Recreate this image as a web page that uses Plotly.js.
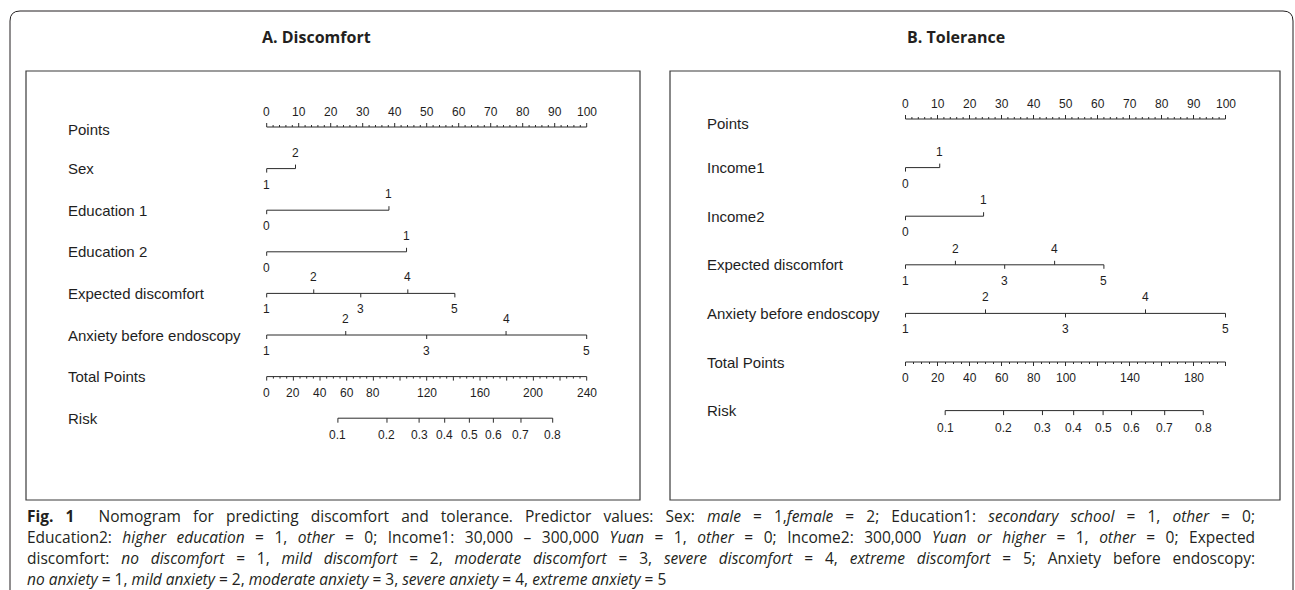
<!DOCTYPE html>
<html>
<head>
<meta charset="utf-8">
<script src="https://cdn.plot.ly/plotly-3.0.1.min.js"></script>
<style>html,body{margin:0;padding:0;background:#fff;}#chart{width:1295px;height:590px;}</style>
</head>
<body>
<div id="chart"></div>
<script>
// ---------------- DATA ----------------
// Panel A: Discomfort
const aTitle = "A. Discomfort";
const aRowLabels = ["Points", "Sex", "Education 1", "Education 2", "Expected discomfort", "Anxiety before endoscopy", "Total Points", "Risk"];
const aSexLevels = ["1", "2"];
const aSexPoints = [0, 9];
const aEdu1Levels = ["0", "1"];
const aEdu1Points = [0, 38.2];
const aEdu2Levels = ["0", "1"];
const aEdu2Points = [0, 43.7];
const aExpLevels = ["1", "2", "3", "4", "5"];
const aExpPoints = [0, 14.7, 29.4, 44.1, 58.8];
const aAnxLevels = ["1", "2", "3", "4", "5"];
const aAnxPoints = [0, 24.7, 50, 74.8, 100];
const aTotalMax = 240;
const aTotalLabels = [0, 20, 40, 60, 80, 120, 160, 200, 240];
const aRiskLabels = ["0.1", "0.2", "0.3", "0.4", "0.5", "0.6", "0.7", "0.8"];
const aRiskTotal = [53.4, 90.2, 114.3, 133.5, 152, 170, 190.7, 214.5];

// Panel B: Tolerance
const bTitle = "B. Tolerance";
const bRowLabels = ["Points", "Income1", "Income2", "Expected discomfort", "Anxiety before endoscopy", "Total Points", "Risk"];
const bInc1Levels = ["0", "1"];
const bInc1Points = [0, 10.7];
const bInc2Levels = ["0", "1"];
const bInc2Points = [0, 24.4];
const bExpLevels = ["1", "2", "3", "4", "5"];
const bExpPoints = [0, 15.6, 31, 46.6, 62];
const bAnxLevels = ["1", "2", "3", "4", "5"];
const bAnxPoints = [0, 25, 50, 75, 100];
const bTotalMax = 200;
const bTotalLabels = [0, 20, 40, 60, 80, 100, 140, 180];
const bRiskLabels = ["0.1", "0.2", "0.3", "0.4", "0.5", "0.6", "0.7", "0.8"];
const bRiskTotal = [24.8, 61.3, 85.6, 105.1, 123.5, 141.3, 162, 186.1];

const pointsTickLabels = [0, 10, 20, 30, 40, 50, 60, 70, 80, 90, 100];

const captionLines = [
  "<b>Fig. 1</b>  Nomogram for predicting discomfort and tolerance. Predictor values: Sex: <i>male</i> = 1,<i>female</i> = 2; Education1: <i>secondary school</i> = 1, <i>other</i> = 0;",
  "Education2: <i>higher education</i> = 1, <i>other</i> = 0; Income1: 30,000 – 300,000 <i>Yuan</i> = 1, <i>other</i> = 0; Income2: 300,000 <i>Yuan or higher</i> = 1, <i>other</i> = 0; Expected",
  "discomfort: <i>no discomfort</i> = 1, <i>mild discomfort</i> = 2, <i>moderate discomfort</i> = 3, <i>severe discomfort</i> = 4, <i>extreme discomfort</i> = 5; Anxiety before endoscopy:",
  "<i>no anxiety</i> = 1, <i>mild anxiety</i> = 2, <i>moderate anxiety</i> = 3, <i>severe anxiety</i> = 4, <i>extreme anxiety</i> = 5"
];

// ---------------- LAYOUT GEOMETRY ----------------
const W = 1295, H = 590;
const px = x => x / W;
const py = y => 1 - y / H;

const geomA = {box: [26, 71, 640, 500], p0: 266.7, p100: 586.7, rowTop: 127, rowStep: 41.6, labelX: 66, titleX: 316, pointsLabelDy: 2};
const geomB = {box: [670, 71, 1280, 500], p0: 905.5, p100: 1225.5, rowTop: 119, rowStep: 48.6, labelX: 705, titleX: 956, pointsLabelDy: 4};
const CAPTION_X0 = 25, CAPTION_X1 = 1255;

const LINE = "#2b2b2b";
const TICKFONT = {family: "Liberation Sans, Arial, sans-serif", size: 12, color: "#1e1e1e"};
const ROWFONT = {family: "Liberation Sans, Arial, sans-serif", size: 15, color: "#1e1e1e"};

const traces = [];
const annotations = [];
const shapes = [];
const layout = {
  width: W, height: H,
  margin: {l: 0, r: 0, t: 0, b: 0},
  paper_bgcolor: "#ffffff", plot_bgcolor: "rgba(0,0,0,0)",
  showlegend: false,
  hovermode: false
};

function buildPanel(idx, g, title, rowLabels, vars, totalMax, totalLabels, riskLabels, riskTotal) {
  const xa = idx === 1 ? "x" : "x2";
  const ya = idx === 1 ? "y" : "y2";
  const xKey = idx === 1 ? "xaxis" : "xaxis2";
  const yKey = idx === 1 ? "yaxis" : "yaxis2";
  const span = g.p100 - g.p0;
  const [bx0, by0, bx1, by1] = g.box;
  layout[xKey] = {domain: [px(bx0), px(bx1)], range: [(bx0 - g.p0) / span * 100, (bx1 - g.p0) / span * 100],
                  visible: false, fixedrange: true, anchor: ya};
  layout[yKey] = {domain: [py(by1), py(by0)], range: [(by1 - g.rowTop) / g.rowStep, (by0 - g.rowTop) / g.rowStep],
                  visible: false, fixedrange: true, anchor: xa};
  const r2 = p => p / g.rowStep; // pixel length to row units
  const xs = [], ys = [];
  const seg = (x0, y0, x1, y1) => { xs.push(x0, x1, null); ys.push(y0, y1, null); };
  const lab = (x, y, text, shift, font) => annotations.push({xref: xa, yref: ya, x: x, y: y, text: text, showarrow: false,
                  yshift: shift, font: font || TICKFONT, xanchor: "center", yanchor: "middle"});

  // panel title and box
  annotations.push({xref: "paper", yref: "paper", x: px(g.titleX), y: py(37), text: "<b>" + title + "</b>", showarrow: false,
                    font: {family: "Open Sans, sans-serif", size: 16, color: "#231f20"}, xanchor: "center", yanchor: "middle"});
  shapes.push({type: "rect", xref: "paper", yref: "paper", x0: px(bx0), y0: py(by0), x1: px(bx1), y1: py(by1),
               line: {color: "#3a3a3a", width: 1.2}, fillcolor: "rgba(0,0,0,0)"});

  // row labels
  rowLabels.forEach((t, i) => annotations.push({xref: "paper", yref: ya, x: px(g.labelX), y: i, text: t, showarrow: false,
                  yshift: i === 0 ? -g.pointsLabelDy : 0,
                  xanchor: "left", yanchor: "middle", font: ROWFONT}));

  // Points scale (row 0): ticks up, labels above
  seg(0, 0, 100, 0);
  for (let v = 0; v <= 100; v += 2) {
    const major = v % 10 === 0;
    seg(v, 0, v, -r2(major ? 4 : 2));
  }
  pointsTickLabels.forEach(v => lab(v, 0, String(v), 15));

  // variable rows
  vars.forEach((vr, k) => {
    const row = k + 1;
    const pts = vr.points;
    seg(Math.min(...pts), row, Math.max(...pts), row);
    pts.forEach((p, j) => {
      const up = j % 2 === 1;
      seg(p, row, p, row + (up ? -r2(4) : r2(4)));
      lab(p, row, vr.levels[j], up ? 16 : -16);
    });
  });

  // Total points row: ticks down, labels below
  const tRow = vars.length + 1;
  const toPts = t => t * 100 / totalMax;
  seg(0, tRow, 100, tRow);
  for (let t = 0; t <= totalMax; t += 5) {
    const major = t % 20 === 0;
    seg(toPts(t), tRow, toPts(t), tRow + r2(major ? 4 : 2));
  }
  totalLabels.forEach(t => lab(toPts(t), tRow, String(t), -16));

  // Risk row
  const rRow = vars.length + 2;
  seg(toPts(riskTotal[0]), rRow, toPts(riskTotal[riskTotal.length - 1]), rRow);
  riskTotal.forEach((t, j) => {
    seg(toPts(t), rRow, toPts(t), rRow + r2(4.5));
    lab(toPts(t), rRow, riskLabels[j], -17);
  });

  traces.push({type: "scatter", mode: "lines", x: xs, y: ys, xaxis: xa, yaxis: ya,
               line: {color: LINE, width: 1}, hoverinfo: "skip", connectgaps: false});
}

buildPanel(1, geomA, aTitle, aRowLabels, [
  {levels: aSexLevels, points: aSexPoints},
  {levels: aEdu1Levels, points: aEdu1Points},
  {levels: aEdu2Levels, points: aEdu2Points},
  {levels: aExpLevels, points: aExpPoints},
  {levels: aAnxLevels, points: aAnxPoints}
], aTotalMax, aTotalLabels, aRiskLabels, aRiskTotal);

buildPanel(2, geomB, bTitle, bRowLabels, [
  {levels: bInc1Levels, points: bInc1Points},
  {levels: bInc2Levels, points: bInc2Points},
  {levels: bExpLevels, points: bExpPoints},
  {levels: bAnxLevels, points: bAnxPoints}
], bTotalMax, bTotalLabels, bRiskLabels, bRiskTotal);

// outer rounded frame
shapes.push({type: "path", xref: "paper", yref: "paper",
  path: `M ${px(10)},${py(590)} L ${px(10)},${py(21)} Q ${px(10)},${py(11)} ${px(20)},${py(11)} L ${px(1283)},${py(11)} Q ${px(1293)},${py(11)} ${px(1293)},${py(21)} L ${px(1293)},${py(590)}`,
  line: {color: "#231f20", width: 1}});

// caption
const capY = [515.5, 536.5, 557.5, 578.5];
captionLines.forEach((t, i) => annotations.push({xref: "paper", yref: "paper", x: px(CAPTION_X0), y: py(capY[i]), text: t, showarrow: false,
  xanchor: "left", yanchor: "middle", align: "left", font: {family: "Open Sans, sans-serif", size: 15.5, color: "#231f20"}}));

layout.annotations = annotations;
layout.shapes = shapes;

Plotly.newPlot("chart", traces, layout, {displayModeBar: false, staticPlot: true}).then(gd => {
  // justify the first three caption lines (as in the printed caption)
  const starts = ["Fig. 1", "Education2:", "discomfort:"];
  gd.querySelectorAll("text.annotation-text").forEach(t => {
    const txt = t.textContent;
    if (!starts.some(s => txt.startsWith(s))) return;
    const len = t.getComputedTextLength();
    const spaces = (txt.match(/[ \u00a0]/g) || []).length;
    const target = CAPTION_X1 - CAPTION_X0 - 2;
    if (spaces > 0 && len < target) t.style.wordSpacing = ((target - len) / spaces).toFixed(2) + "px";
  });
});
</script>
</body>
</html>
